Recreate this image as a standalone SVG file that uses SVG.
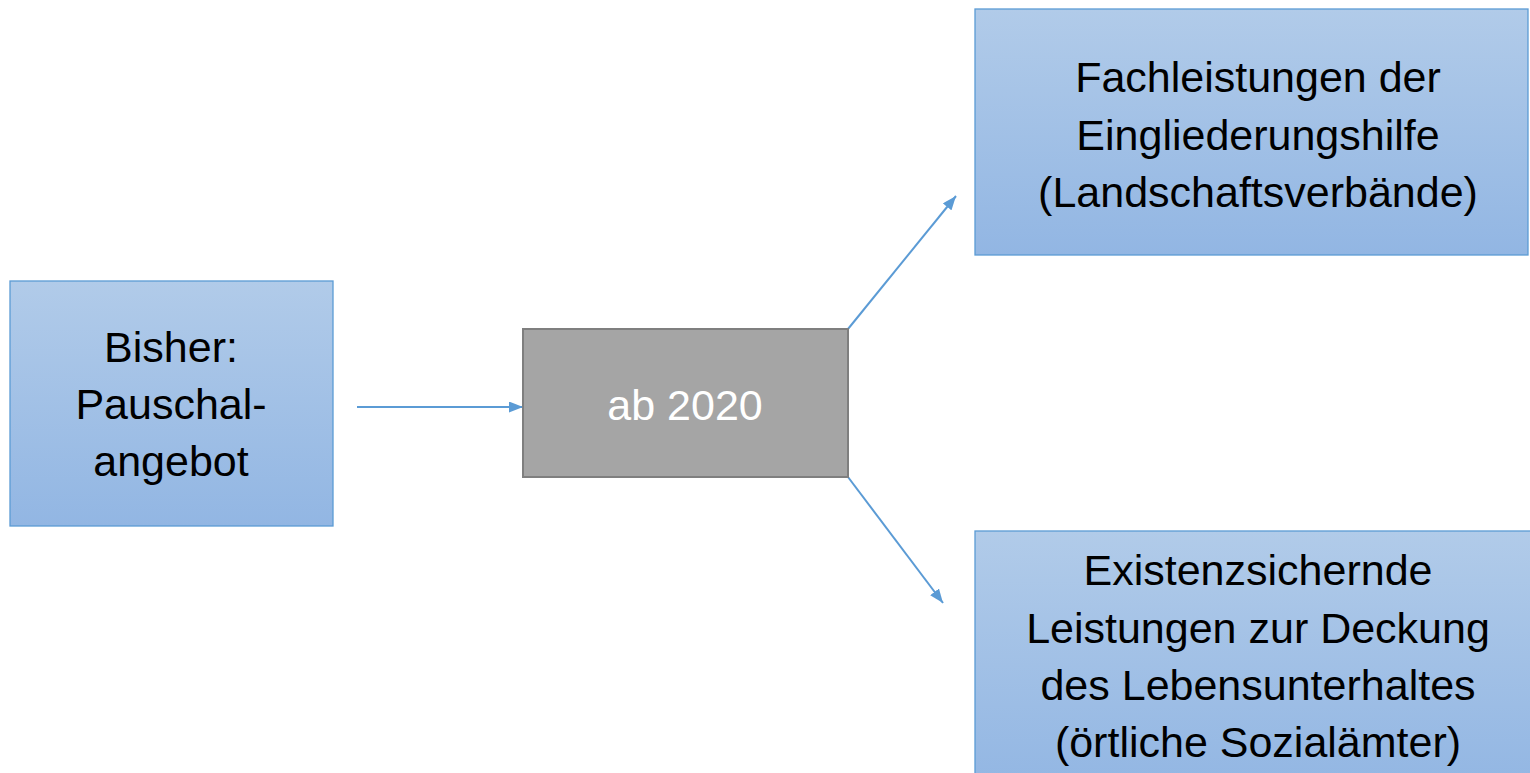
<svg xmlns="http://www.w3.org/2000/svg" width="1530" height="773" viewBox="0 0 1530 773">
<style>
.box{stroke:#5b9bd5;stroke-width:1.3;fill:url(#blue)}
.gray{fill:#a5a5a5;stroke:#7f7f7f;stroke-width:2}
.t{font-family:"Liberation Sans",Arial,sans-serif;font-size:43px;text-anchor:middle;fill:#000}
.w{fill:#fff}
.c{stroke:#5b9bd5;stroke-width:2;fill:none;marker-end:url(#ah)}
</style>
<defs>
<linearGradient id="blue" x1="0" y1="0" x2="0" y2="1">
<stop offset="0" stop-color="#b1cbe9"/>
<stop offset="1" stop-color="#92b6e3"/>
</linearGradient>
<marker id="ah" markerWidth="14" markerHeight="11" refX="14" refY="5.5" orient="auto" markerUnits="userSpaceOnUse">
<path d="M0,0 L14,5.5 L0,11 Z" fill="#5b9bd5"/>
</marker>
</defs>
<rect width="1530" height="773" fill="#fff"/>
<g id="connectors">
<line class="c" x1="357" y1="407" x2="523" y2="407"/>
<line class="c" x1="848" y1="329" x2="956" y2="196"/>
<line class="c" x1="848" y1="477" x2="943" y2="603"/>
</g>
<g id="bisher">
<rect class="box" x="10" y="281" width="323" height="245"/>
<text class="t" x="171" y="362">Bisher:</text>
<text class="t" x="171" y="419">Pauschal-</text>
<text class="t" x="171" y="476">angebot</text>
</g>
<g id="ab2020">
<rect class="gray" x="523" y="329" width="325" height="148"/>
<text class="t w" x="685" y="420">ab 2020</text>
</g>
<g id="fachleistungen">
<rect class="box" x="975" y="9" width="553" height="246"/>
<text class="t" x="1258" y="92">Fachleistungen der</text>
<text class="t" x="1258" y="150">Eingliederungshilfe</text>
<text class="t" x="1258" y="207">(Landschaftsverbände)</text>
</g>
<g id="existenz">
<rect class="box" x="975" y="531" width="570" height="260"/>
<text class="t" x="1258" y="585">Existenzsichernde</text>
<text class="t" x="1258" y="643">Leistungen zur Deckung</text>
<text class="t" x="1258" y="700">des Lebensunterhaltes</text>
<text class="t" x="1258" y="757">(örtliche Sozialämter)</text>
</g>
</svg>
